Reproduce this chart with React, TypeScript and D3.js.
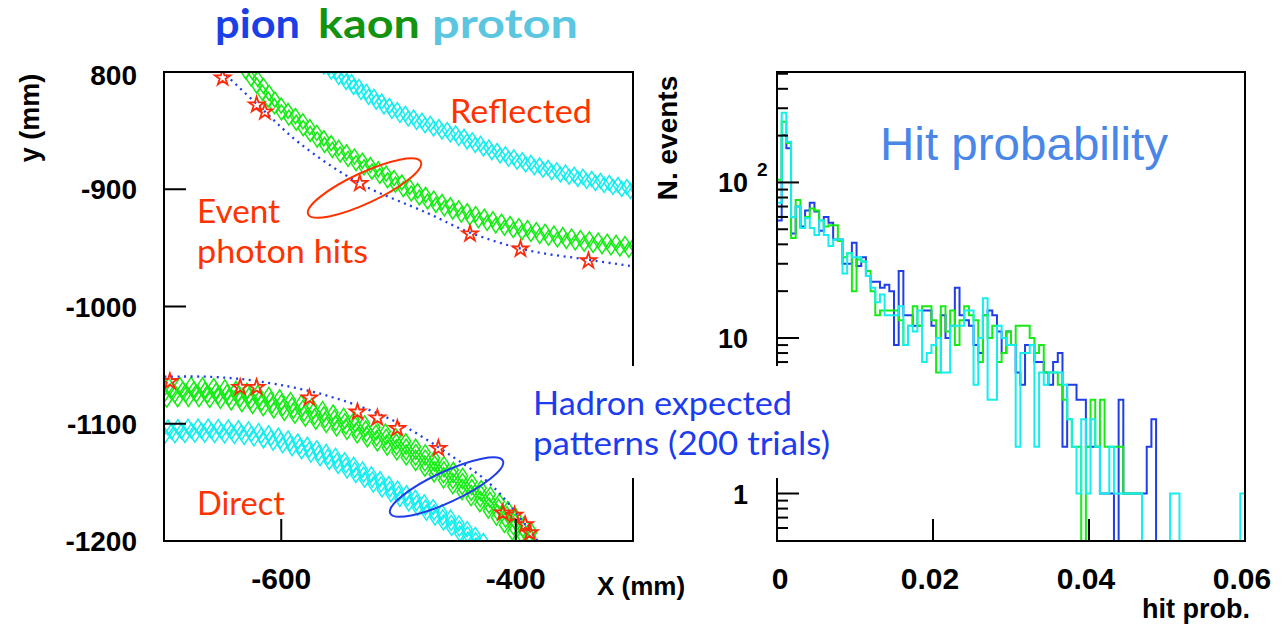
import React, { useEffect, useRef } from 'react';
import * as d3 from 'd3';

type P = [number, number];

// ---------- Left panel: ring image (x, y in mm) ----------
const kaonReflected: P[] = [[-631, -795], [-604, -828], [-584, -843], [-561, -861], [-518, -885], [-473, -909], [-419, -928], [-362, -941], [-298, -950]];
const protonReflected: P[] = [[-566, -792], [-505, -832], [-448, -855], [-405, -873], [-362, -886], [-298, -901]];
const pionReflected: P[] = [[-655, -795], [-618, -830], [-584, -861], [-533, -895], [-476, -920], [-439, -937], [-390, -952], [-339, -960], [-298, -966]];
const hitsReflected: P[] = [[-650, -805], [-621, -828], [-614, -834], [-533, -895], [-439, -938], [-396, -951], [-338, -961]];

const kaonDirect: P[] = [[-705, -1074], [-670, -1073], [-618, -1080], [-561, -1095], [-505, -1116], [-462, -1141], [-419, -1170], [-384, -1203]];
const protonDirect: P[] = [[-705, -1107], [-660, -1106], [-618, -1110], [-561, -1128], [-505, -1157], [-462, -1180], [-428, -1204]];
const pionDirect: P[] = [[-705, -1060], [-660, -1060], [-618, -1064], [-561, -1076], [-505, -1097], [-454, -1128], [-419, -1154], [-379, -1203]];
const hitsDirect: P[] = [[-695, -1064], [-635, -1069], [-621, -1069], [-576, -1078], [-535, -1090], [-518, -1095], [-501, -1104], [-466, -1121], [-411, -1176], [-401, -1178], [-392, -1186], [-388, -1193]];

// annotation ellipses: centre (mm), radii (mm), rotation (deg)
const eventEllipse = { cx: -529, cy: -899, rx: 53, ry: 13, rot: -25 };
const hadronEllipse = { cx: -459, cy: -1154, rx: 53, ry: 13, rot: -25 };

const leftXTicks = [-600, -400];
const leftXLabels = ['-600', '-400'];
const leftYTicks = [-800, -900, -1000, -1100, -1200];
const leftYLabels = ['800', '-900', '-1000', '-1100', '-1200'];

// ---------- Right panel: hit probability histograms (100 bins, 0..0.06) ----------
const binWidth = 0.0006;
const pionCounts = [
  57, 202, 166, 47, 70, 52, 66, 74, 65, 49,
  60, 55, 43, 43, 30, 30, 41, 29, 33, 25,
  23, 23, 21, 22, 20, 9, 27, 14, 14, 12,
  12, 15, 15, 12, 10, 14, 10, 12, 21, 14,
  13, 12, 9, 8, 14, 15, 14, 11, 8, 11,
  9, 6, 5, 9, 9, 7, 7, 6, 5, 7,
  8, 2, 5, 5, 4, 4, 2, 2, 2, 1,
  1, 1, 0, 4, 1, 1, 1, 1, 1, 2,
  3, 0, 0, 0, 0, 0, 0, 0, 0, 0,
  0, 0, 0, 0, 0, 0, 0, 0, 0, 0,
];
const kaonCounts = [
  104, 246, 179, 44, 77, 51, 60, 68, 66, 57,
  52, 53, 53, 42, 33, 35, 20, 32, 31, 27,
  20, 14, 15, 15, 15, 15, 13, 9, 12, 16,
  12, 16, 16, 13, 6, 16, 11, 15, 9, 13,
  16, 14, 13, 7, 14, 10, 12, 7, 8, 11,
  9, 12, 12, 12, 10, 8, 9, 6, 6, 6,
  5, 4, 3, 2, 2, 0, 2, 4, 2, 4,
  2, 2, 2, 2, 1, 1, 1, 1, 0, 0,
  0, 0, 0, 0, 0, 0, 0, 0, 0, 0,
  0, 0, 0, 0, 0, 0, 0, 0, 0, 0,
];
const protonCounts = [
  74, 281, 183, 60, 70, 51, 59, 51, 46, 57,
  46, 39, 43, 43, 26, 35, 33, 33, 31, 25,
  21, 17, 19, 14, 14, 14, 16, 9, 12, 11,
  15, 7, 8, 9, 10, 6, 6, 12, 12, 12,
  15, 15, 5, 10, 18, 4, 4, 12, 10, 9,
  9, 2, 8, 8, 9, 2, 6, 5, 6, 6,
  6, 5, 3, 2, 1, 3, 1, 3, 2, 1,
  1, 2, 1, 1, 1, 1, 1, 1, 0, 0,
  0, 0, 0, 0, 1, 1, 0, 0, 0, 0,
  0, 0, 0, 0, 0, 0, 0, 0, 0, 1,
];
const rightXTicks = [0, 0.02, 0.04, 0.06];
const rightXLabels = ['0', '0.02', '0.04', '0.06'];
const rightYMajor = [1, 10, 100];
const rightYMinor = [0.6, 0.7, 0.8, 0.9, 2, 3, 4, 5, 6, 7, 8, 9, 20, 30, 40, 50, 60, 70, 80, 90, 200, 300, 400, 500];

const C = {
  pion: '#1f3de8',
  kaon: '#14ec14',
  proton: '#14eeee',
  star: '#ff2a0a',
  red: '#ff3300',
  blueText: '#1c3cf0',
  hit: '#4a86e8',
  tPion: '#1b3fe6',
  tKaon: '#129412',
  tProton: '#5bc6e0',
};

const BOLD = "'Liberation Sans', Arial, Helvetica, sans-serif";
const SLIDE = "Lato, 'Open Sans', sans-serif";

export default function App() {
  const ref = useRef<SVGSVGElement>(null);

  useEffect(() => {
    const el = ref.current;
    if (!el) return;
    const svg = d3.select(el);
    svg.selectAll('*').remove();

    const L = { x0: 164, x1: 633, y0: 72, y1: 541 };
    const R = { x0: 777, x1: 1245, y0: 72, y1: 541 };
    const xL = d3.scaleLinear().domain([-700, -300]).range([L.x0, L.x1]);
    const yL = d3.scaleLinear().domain([-1200, -800]).range([L.y1, L.y0]);
    const xR = d3.scaleLinear().domain([0, 0.06]).range([R.x0, R.x1]);
    const yR = d3.scaleLog().domain([0.495, 513]).range([R.y1, R.y0]).clamp(true);

    const defs = svg.append('defs');
    defs.append('clipPath').attr('id', 'clipL').append('rect')
      .attr('x', L.x0).attr('y', L.y0).attr('width', L.x1 - L.x0).attr('height', L.y1 - L.y0);
    defs.append('clipPath').attr('id', 'clipR').append('rect')
      .attr('x', R.x0).attr('y', R.y0 - 2).attr('width', R.x1 - R.x0 + 2).attr('height', R.y1 - R.y0 + 2);

    const text = (x: number, y: number, s: string, o: any = {}) => {
      const t = svg.append('text').attr('x', x).attr('y', y).text(s)
        .attr('font-family', o.family || BOLD)
        .attr('font-size', o.size || 28)
        .attr('font-weight', o.weight || 'bold')
        .attr('fill', o.fill || '#000')
        .attr('text-anchor', o.anchor || 'start');
      if (o.len) t.attr('textLength', o.len).attr('lengthAdjust', 'spacingAndGlyphs');
      if (o.transform) t.attr('transform', o.transform);
      return t;
    };

    // ---------------- LEFT PANEL ----------------
    const gL = svg.append('g').attr('clip-path', 'url(#clipL)');
    const curve = d3.line<P>().x(d => xL(d[0])).y(d => yL(d[1])).curve(d3.curveCatmullRom.alpha(0.5));

    const band = (pts: P[], color: string, offsets: number[], step: number) => {
      const guide = gL.append('path').attr('d', curve(pts) as string).attr('fill', 'none');
      const node = guide.node() as SVGPathElement;
      const len = node.getTotalLength();
      const g = gL.append('g').attr('fill', 'none').attr('stroke', color).attr('stroke-width', 1.5);
      offsets.forEach((off, k) => {
        for (let s = (k * step) / offsets.length; s <= len; s += step) {
          const p = node.getPointAtLength(s);
          const a = node.getPointAtLength(Math.max(0, s - 1));
          const b = node.getPointAtLength(Math.min(len, s + 1));
          let tx = b.x - a.x, ty = b.y - a.y;
          const n = Math.hypot(tx, ty) || 1;
          tx /= n; ty /= n;
          const px = p.x - ty * off, py = p.y + tx * off;
          g.append('path').attr('d', 'M0,-7.5L5,0L0,7.5L-5,0Z')
            .attr('transform', `translate(${px.toFixed(2)},${py.toFixed(2)})`);
        }
      });
      guide.remove();
    };

    band(protonReflected, C.proton, [-1.5, 1.5], 9);
    band(kaonReflected, C.kaon, [-2.5, 2.5], 9);
    band(protonDirect, C.proton, [-4, 0, 4], 10);
    band(kaonDirect, C.kaon, [-7, -2.5, 2.5, 7], 11);

    const dotted = (pts: P[]) => {
      gL.append('path').attr('d', curve(pts) as string).attr('fill', 'none')
        .attr('stroke', C.pion).attr('stroke-width', 2.3).attr('stroke-dasharray', '2 4.5');
    };
    dotted(pionReflected);
    dotted(pionDirect);

    const star = d3.symbol().type(d3.symbolStar).size(75);
    [...hitsReflected, ...hitsDirect].forEach(h => {
      gL.append('path').attr('d', star() as string)
        .attr('transform', `translate(${xL(h[0])},${yL(h[1])})`)
        .attr('fill', 'none').attr('stroke', C.star).attr('stroke-width', 1.8);
    });

    const kpx = (xL(0) - xL(-1));
    const ell = (e: any, color: string) => {
      svg.append('ellipse').attr('cx', 0).attr('cy', 0)
        .attr('rx', e.rx * kpx).attr('ry', e.ry * kpx)
        .attr('transform', `translate(${xL(e.cx)},${yL(e.cy)}) rotate(${e.rot})`)
        .attr('fill', 'none').attr('stroke', color).attr('stroke-width', 2);
    };
    ell(eventEllipse, C.red);
    ell(hadronEllipse, C.pion);

    // frame & ticks
    svg.append('rect').attr('x', L.x0).attr('y', L.y0).attr('width', L.x1 - L.x0).attr('height', L.y1 - L.y0)
      .attr('fill', 'none').attr('stroke', '#000').attr('stroke-width', 2);
    leftYTicks.forEach((v, i) => {
      svg.append('line').attr('x1', L.x0).attr('x2', L.x0 + 22).attr('y1', yL(v)).attr('y2', yL(v))
        .attr('stroke', '#000').attr('stroke-width', 2);
      text(137, yL(v) + (i === 0 ? 13 : 10), leftYLabels[i], { anchor: 'end', size: 28 });
    });
    leftXTicks.forEach((v, i) => {
      svg.append('line').attr('x1', xL(v)).attr('x2', xL(v)).attr('y1', L.y1).attr('y2', L.y1 - 22)
        .attr('stroke', '#000').attr('stroke-width', 2);
      text(xL(v), 589, leftXLabels[i], { anchor: 'middle', size: 30 });
    });
    text(0, 0, 'y (mm)', { anchor: 'middle', size: 27, transform: 'translate(39,118) rotate(-90)' });
    text(597, 595, 'X (mm)', { size: 26 });

    // ---------------- RIGHT PANEL ----------------
    const gR = svg.append('g').attr('clip-path', 'url(#clipR)');
    const histPath = (counts: number[]) => {
      const pts: P[] = [[xR(0), R.y1]];
      counts.forEach((c, i) => {
        const y = c > 0 ? yR(c) : R.y1;
        pts.push([xR(i * binWidth), y]);
        pts.push([xR((i + 1) * binWidth), y]);
      });
      pts.push([xR(counts.length * binWidth), R.y1]);
      return d3.line<P>()(pts) as string;
    };

    svg.append('rect').attr('x', R.x0).attr('y', R.y0).attr('width', R.x1 - R.x0).attr('height', R.y1 - R.y0)
      .attr('fill', 'none').attr('stroke', '#000').attr('stroke-width', 2);
    rightYMajor.forEach(v => {
      svg.append('line').attr('x1', R.x0).attr('x2', R.x0 + 22).attr('y1', yR(v)).attr('y2', yR(v))
        .attr('stroke', '#000').attr('stroke-width', 2);
    });
    rightYMinor.forEach(v => {
      svg.append('line').attr('x1', R.x0).attr('x2', R.x0 + 11).attr('y1', yR(v)).attr('y2', yR(v))
        .attr('stroke', '#000').attr('stroke-width', 2);
    });
    rightXTicks.forEach((v, i) => {
      if (i > 0 && i < rightXTicks.length - 1) {
        svg.append('line').attr('x1', xR(v)).attr('x2', xR(v)).attr('y1', R.y1).attr('y2', R.y1 - 22)
          .attr('stroke', '#000').attr('stroke-width', 2);
      }
      text(i === 0 ? xR(v) + 3 : xR(v) - 3, 589, rightXLabels[i], { anchor: 'middle', size: 30 });
    });

    [
      [pionCounts, C.pion],
      [kaonCounts, C.kaon],
      [protonCounts, C.proton],
    ].forEach(([counts, color]) => {
      gR.append('path').attr('d', histPath(counts as number[])).attr('fill', 'none')
        .attr('stroke', color as string).attr('stroke-width', 2).attr('stroke-linejoin', 'miter');
    });

    text(748, yR(100) + 10, '10', { anchor: 'end', size: 27 });
    text(757, yR(100) - 6, '2', { size: 19 });
    text(748, yR(10) + 10, '10', { anchor: 'end', size: 27 });
    text(748, yR(1) + 10, '1', { anchor: 'end', size: 27 });
    text(0, 0, 'N. events', { anchor: 'middle', size: 28, transform: 'translate(677,138) rotate(-90)' });
    text(1250, 618, 'hit prob.', { anchor: 'end', size: 27 });

    // ---------------- ANNOTATIONS ----------------
    text(215, 38, 'pion', { family: SLIDE, size: 40, fill: C.tPion, len: 85 });
    text(318, 38, 'kaon', { family: SLIDE, size: 40, fill: C.tKaon, len: 102 });
    text(432, 38, 'proton', { family: SLIDE, size: 40, fill: C.tProton, len: 146 });

    text(450, 123, 'Reflected', { family: SLIDE, weight: 'normal', size: 32, fill: C.red, len: 142 });
    text(197, 223, 'Event', { family: SLIDE, weight: 'normal', size: 32, fill: C.red, len: 83 });
    text(197, 263, 'photon hits', { family: SLIDE, weight: 'normal', size: 32, fill: C.red, len: 171 });
    text(197, 515, 'Direct', { family: SLIDE, weight: 'normal', size: 32, fill: C.red, len: 88 });

    svg.append('rect').attr('x', 528).attr('y', 366).attr('width', 308).attr('height', 112).attr('fill', '#fff');
    text(533, 415, 'Hadron expected', { family: SLIDE, weight: 'normal', size: 32, fill: C.blueText, len: 259 });
    text(533, 455, 'patterns (200 trials)', { family: SLIDE, weight: 'normal', size: 32, fill: C.blueText, len: 297 });

    text(880, 160, 'Hit probability', { weight: 'normal', size: 46, fill: C.hit, len: 288 });
  }, []);

  return (
    <svg
      ref={ref}
      width={1285}
      height={628}
      style={{ position: 'absolute', left: 0, top: 0, background: '#fff' }}
    />
  );
}
